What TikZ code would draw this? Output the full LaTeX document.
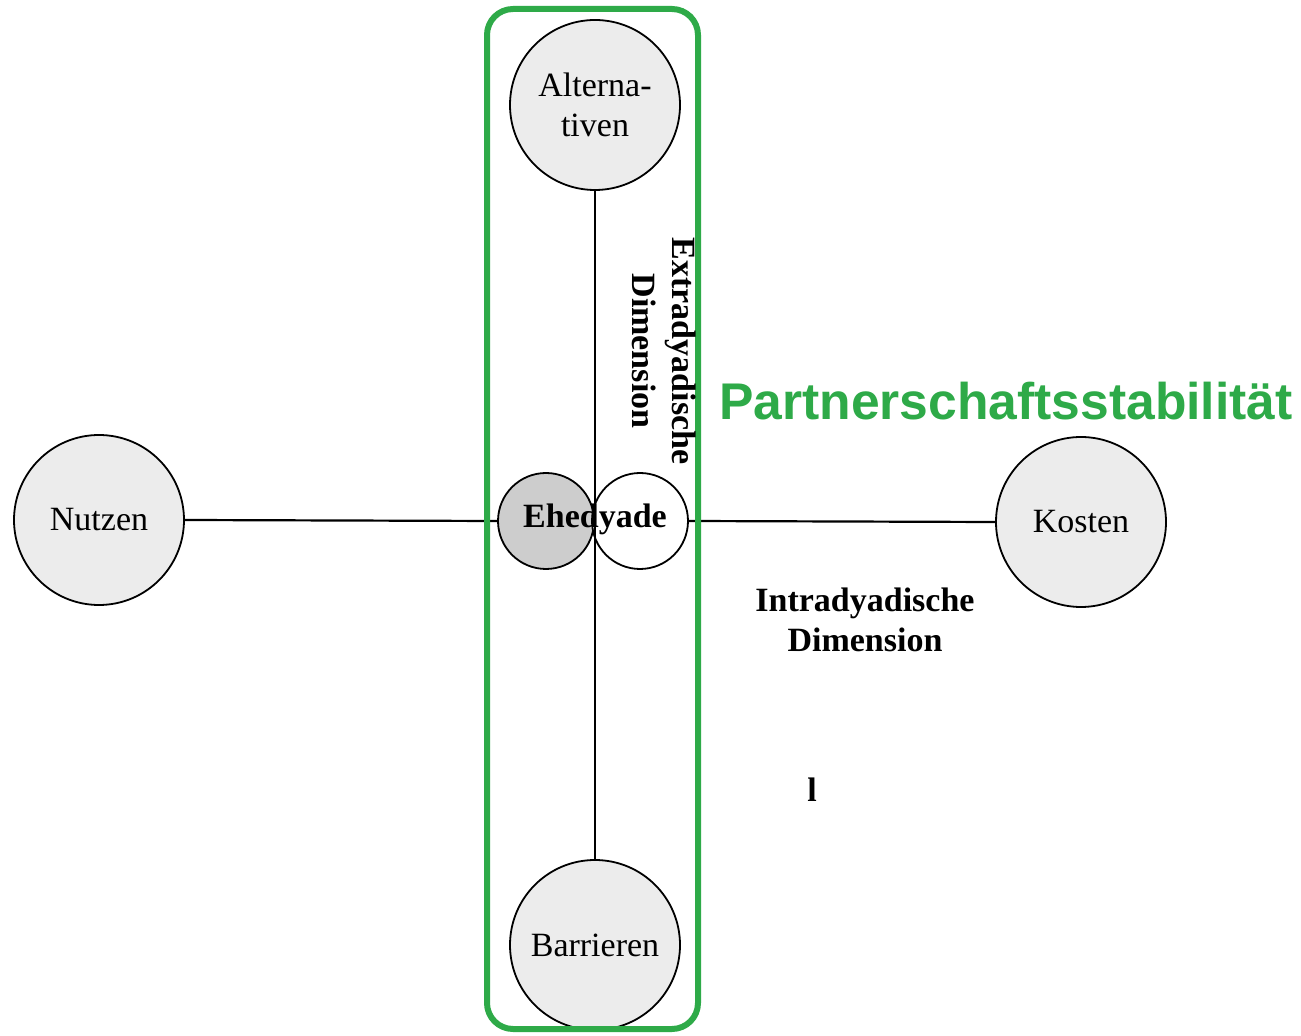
\documentclass[tikz,border=0pt]{standalone}
\usepackage{fontspec}
\setmainfont{Liberation Serif}
\newfontfamily\headfont{Liberation Sans}
\definecolor{framegreen}{RGB}{46,170,72}
\definecolor{circfill}{RGB}{236,236,236}
\definecolor{ehefill}{RGB}{205,205,205}
\begin{document}
\begin{tikzpicture}[x=0.5pt,y=-0.5pt,
  bigcirc/.style={circle,draw=black,line width=0.9pt,fill=circfill,minimum size=85pt,inner sep=0pt,align=center,font=\fontsize{17}{20}\selectfont},
  smallcirc/.style={circle,draw=black,line width=0.9pt,minimum size=48pt,inner sep=0pt},
  conn/.style={draw=black,line width=1.1pt},
  lbl/.style={font=\fontsize{17}{20}\selectfont\bfseries,align=center,inner sep=0pt}]
\useasboundingbox (0,0) rectangle (1301,1036);
\fill[white] (0,0) rectangle (1301,1036);
% circles
\node[bigcirc] (alt) at (595,105) {Alterna-\\tiven};
\node[bigcirc] (bar) at (595,945) {Barrieren};
\node[bigcirc] (nutzen) at (99,520) {Nutzen};
\node[bigcirc] (kosten) at (1081,522) {Kosten};
\node[smallcirc,fill=ehefill] (el) at (546,521) {};
\node[smallcirc,fill=white] (er) at (640,521) {};
% connectors
\draw[conn] (alt) -- (bar);
\draw[conn] (nutzen.east) -- (el.west);
\draw[conn] (er.east) -- (kosten.west);
\node[lbl] (ehe) at (595,519) {Ehedyade};
% frame
\draw[framegreen,line width=3pt,rounded corners=13pt] (487,9) rectangle (698,1029);
% labels
\node[lbl,rotate=-90] (extra) at (664,351) {Extradyadische\\Dimension};
\node[lbl] (intra) at (865,620) {Intradyadische\\Dimension};
\node[lbl] (mark) at (812,790) {l};
\node[font=\headfont\bfseries\fontsize{25.8}{30}\selectfont,text=framegreen,inner sep=0pt] (title) at (1006,401) {Partnerschaftsstabilität};
\end{tikzpicture}
\end{document}
